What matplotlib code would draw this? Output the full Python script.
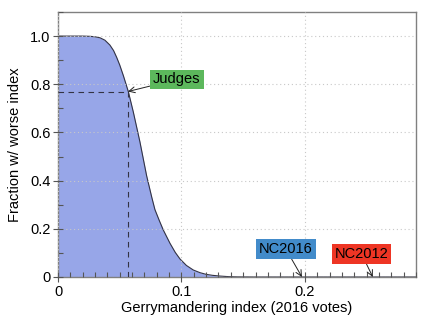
import matplotlib
matplotlib.use("Agg")
import matplotlib.pyplot as plt
from matplotlib.ticker import MultipleLocator

plt.rcParams['font.family'] = ['Liberation Sans', 'DejaVu Sans']

# Curve
gerry_x = [0.0, 0.02, 0.026, 0.03, 0.034, 0.038, 0.042, 0.045, 0.0475, 0.05,
           0.053, 0.057, 0.061, 0.0664, 0.0718, 0.076, 0.0785, 0.082, 0.0853,
           0.0907, 0.095, 0.0988, 0.104, 0.1096, 0.115, 0.12, 0.125, 0.131,
           0.138, 0.145, 0.16, 0.29]
fraction = [1.0, 1.0, 0.999, 0.997, 0.993, 0.983, 0.963, 0.94, 0.912, 0.88,
            0.835, 0.769, 0.685, 0.56, 0.42, 0.33, 0.28, 0.235, 0.195,
            0.14, 0.102, 0.075, 0.048, 0.029, 0.018, 0.011, 0.007, 0.004,
            0.0015, 0.0005, 0.0, 0.0]

judges_x, judges_y = 0.0567, 0.77
nc2016_x = 0.1976
nc2012_x = 0.255

fig = plt.figure(figsize=(4.36, 3.24), dpi=100)
ax = fig.add_axes([58/436, 1-277/324, (416-58)/436, (277-12)/324])

ax.fill_between(gerry_x, fraction, 0, color='#97a6e8', lw=0, zorder=1)
ax.plot(gerry_x, fraction, color='#333344', lw=0.8, zorder=2)

ax.plot([0, judges_x], [judges_y, judges_y], color='#333344', lw=0.8,
        dashes=(5, 4), zorder=3)
ax.plot([judges_x, judges_x], [0, judges_y], color='#333344', lw=0.8,
        dashes=(5, 4), zorder=3)

ax.set_xlim(0, 0.29)
ax.set_ylim(0, 1.1)
ax.xaxis.set_major_locator(MultipleLocator(0.1))
ax.xaxis.set_minor_locator(MultipleLocator(0.01))
ax.yaxis.set_major_locator(MultipleLocator(0.2))
ax.yaxis.set_minor_locator(MultipleLocator(0.1))
ax.set_xticks([0, 0.1, 0.2])
ax.set_xticklabels(['0', '0.1', '0.2'])
ax.set_yticks([0, 0.2, 0.4, 0.6, 0.8, 1.0])
ax.set_yticklabels(['0', '0.2', '0.4', '0.6', '0.8', '1.0'])

ax.tick_params(which='major', direction='inout', length=7, width=0.8,
               color='#555555', labelsize=10.5, pad=2)
ax.tick_params(which='minor', direction='in', length=3.5, width=0.8,
               color='#555555')
for s in ax.spines.values():
    s.set_color('#808080')
    s.set_linewidth(1.0)

ax.grid(True, which='major', color='#c8c8c8', linestyle=(0, (1, 2.5)), lw=0.8)
ax.set_axisbelow(False)

ax.set_xlabel('Gerrymandering index (2016 votes)', fontsize=10.5, labelpad=2)
ax.set_ylabel('Fraction w/ worse index', fontsize=10.5, labelpad=6)

arrow = dict(arrowstyle='->', color='#222222', lw=0.7, shrinkA=0, shrinkB=0)
ax.annotate('Judges', xy=(judges_x, judges_y), xytext=(0.0964, 0.82),
            ha='center', va='center', fontsize=10.5,
            bbox=dict(boxstyle='square,pad=0.2', fc='#5cb85c', ec='none'),
            arrowprops=arrow, zorder=5)
ax.annotate('NC2016', xy=(nc2016_x, 0), xytext=(0.1846, 0.116),
            ha='center', va='center', fontsize=10.5,
            bbox=dict(boxstyle='square,pad=0.2', fc='#428bca', ec='none'),
            arrowprops=arrow, zorder=5)
ax.annotate('NC2012', xy=(nc2012_x, 0), xytext=(0.246, 0.095),
            ha='center', va='center', fontsize=10.5,
            bbox=dict(boxstyle='square,pad=0.2', fc='#ee3524', ec='none'),
            arrowprops=arrow, zorder=5)

fig.savefig('out.png', dpi=100)
